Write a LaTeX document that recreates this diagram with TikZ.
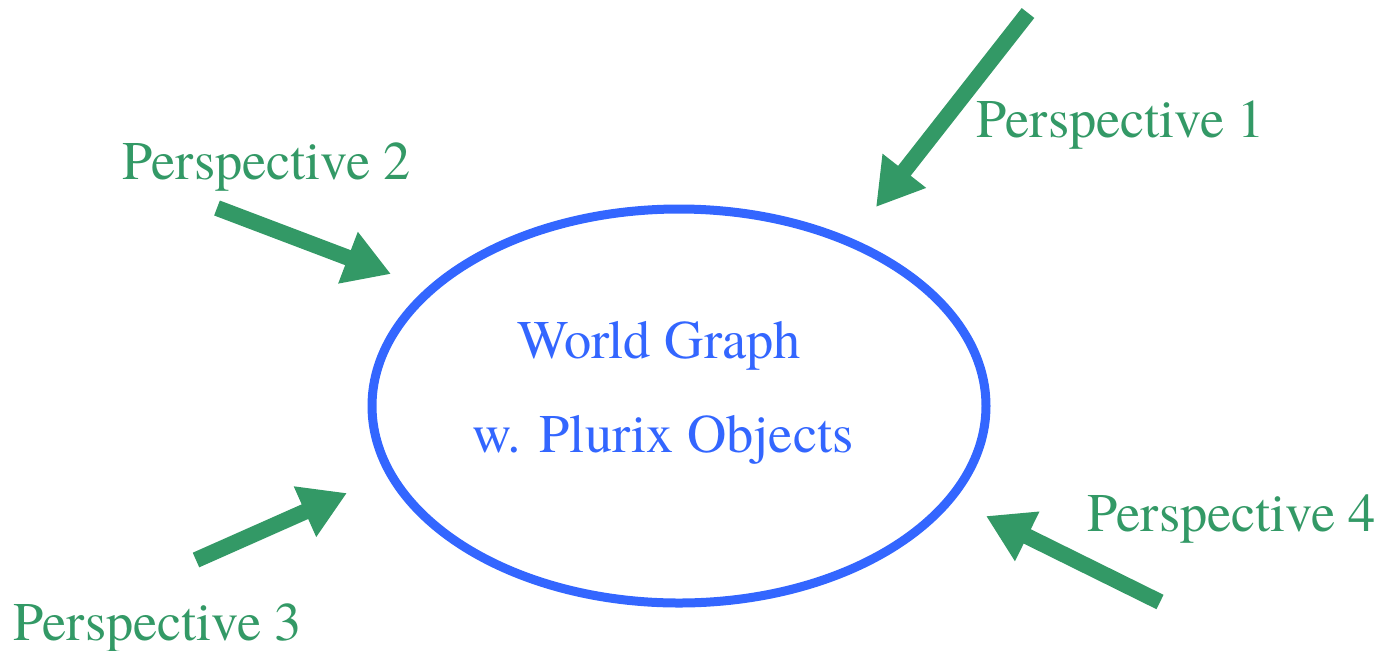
\documentclass[tikz,border=0pt]{standalone}
\usepackage{fontspec}
\setmainfont{texgyretermes-regular.otf}
\usetikzlibrary{shapes.geometric,arrows.meta}
\definecolor{Leaf}{HTML}{339966}
\definecolor{Azure}{HTML}{3366FF}

\begin{document}
\begin{tikzpicture}[x=0.5pt,y=-0.5pt,every node/.style={font=\rmfamily\fontsize{27.2}{32}\selectfont,inner sep=0pt},persp/.style={text=Leaf,anchor=base},worldtext/.style={text=Azure,anchor=base},push/.style={draw=Leaf,line width=8pt,-{Triangle[length=23pt,width=26pt]}},world/.style={ellipse,draw=Azure,line width=4.5pt,minimum width=307pt,minimum height=197pt}]
\useasboundingbox (0,0) rectangle (1382,650);
% the world graph
\node[world] (wg) at (679,406) {};
\node[worldtext] (wgtop) at (659,358) {World Graph};
\node[worldtext] (wgbot) at (663,452) {w. Plurix Objects};
% perspectives
\node[persp] (p1) at (1121,137) {Perspective 1};
\node[persp] (p2) at (267,179) {Perspective 2};
\node[persp] (p3) at (158,640) {Perspective 3};
\node[persp] (p4) at (1232,531) {Perspective 4};
\coordinate (t1) at (1028,13);
\coordinate (h1) at (876,207);
\coordinate (t2) at (217,208);
\coordinate (h2) at (391,274);
\coordinate (t3) at (196,560);
\coordinate (h3) at (347,493);
\coordinate (t4) at (1160,602);
\coordinate (h4) at (986,516);
\draw[push] (t1) -- (h1);
\draw[push] (t2) -- (h2);
\draw[push] (t3) -- (h3);
\draw[push] (t4) -- (h4);
\end{tikzpicture}
\end{document}
